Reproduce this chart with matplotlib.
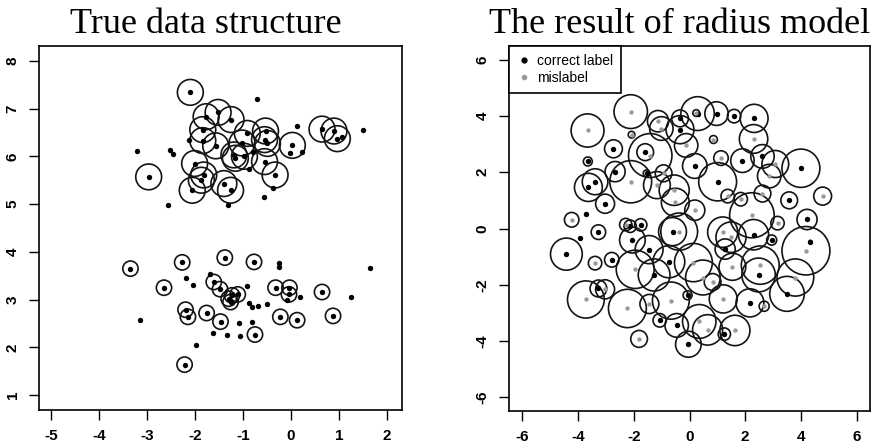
import numpy as np
import matplotlib
matplotlib.use("Agg")
import matplotlib.pyplot as plt
from matplotlib.patches import Circle
from matplotlib.lines import Line2D

# ---- left panel: true data structure ----
# upper group, points with circles
up_circ_x = [-2.10, -2.97, -1.52, -1.77, -1.25, -1.84, -1.84, -1.57, -0.91, -1.02, -1.19, -1.16, -0.97,
             -0.53, -0.55, -0.49, 0.03, 0.65, 0.90, 0.97, -2.01, -1.82, -1.87, -2.06, -1.40, -1.26, -0.55, -0.33]
up_circ_y = [7.34, 5.57, 6.92, 6.83, 6.77, 6.56, 6.33, 6.22, 6.48, 6.28, 6.03, 5.96, 6.00,
             6.53, 6.35, 6.27, 6.23, 6.57, 6.53, 6.37, 5.85, 5.61, 5.50, 5.29, 5.43, 5.29, 5.89, 5.61]
# upper group, plain points
up_pt_x = [-0.71, 0.13, 1.50, -3.21, -2.53, -2.47, -2.56, -1.31, -0.56, -0.38, -0.02, 0.24, -2.12,
           -0.88, -0.79, 1.07]
up_pt_y = [7.20, 6.64, 6.55, 6.12, 6.13, 6.05, 4.99, 4.98, 5.14, 5.33, 6.08, 6.09, 6.34,
           5.73, 6.09, 6.41]
# lower group, points with circles
lo_circ_x = [-3.35, -2.27, -1.38, -0.77, -2.65, -1.61, -1.48, -1.30, -1.26, -1.23, -1.11, -0.32, -0.03,
             -0.04, 0.65, -2.20, -2.15, -1.76, -1.47, -0.22, 0.13, 0.88, -0.75, -2.22]
lo_circ_y = [3.65, 3.78, 3.88, 3.79, 3.25, 3.37, 3.22, 3.02, 2.95, 3.09, 3.11, 3.25, 3.25,
             3.11, 3.16, 2.79, 2.64, 2.72, 2.54, 2.64, 2.57, 2.66, 2.27, 1.64]
# lower group, plain points
lo_pt_x = [-0.24, -0.25, 1.66, -2.20, -2.04, -1.68, -0.91, 0.19, 1.26, -0.88, -0.82, -0.69, -0.49,
           -0.08, -3.15, -1.09, -0.81, -1.63, -1.33, -1.07, -1.99]
lo_pt_y = [3.76, 3.69, 3.67, 3.46, 3.30, 3.53, 3.28, 3.05, 3.05, 2.92, 2.85, 2.86, 2.91,
           3.00, 2.57, 2.51, 2.54, 2.31, 2.27, 2.24, 2.06]
up_radius = 0.27
lo_radius = 0.16

# ---- right panel: radius model ----
ok_x = [-2.73, -1.59, -3.65, -2.67, -3.39, -3.63, -3.03, -3.72, -3.93, -3.27, -4.42, -2.79, -1.45, -2.05,
        -0.61, -0.74, -1.27, -3.27, -1.07, -0.46, -0.04, -0.07, -2.13, -1.75, -1.54, -0.34, -0.34, 0.29,
        0.97, 1.60, 2.32, 0.19, 1.90, 2.62, 4.00, 1.01, 3.58, 4.22, 2.30, 2.95, 1.28, 4.34, 2.48, 3.50,
        2.17, 1.25]
ok_y = [2.83, 2.71, 2.38, 2.02, 1.66, 1.46, 0.88, 0.50, -0.33, -0.13, -0.91, -1.11, -0.75, -0.41,
        -0.11, -1.18, -1.65, -2.13, -3.26, -3.44, -4.11, -2.37, 0.08, 0.13, 1.96, 3.91, 3.51, 4.08,
        4.08, 3.99, 3.91, 2.22, 2.41, 2.56, 2.14, 1.66, 1.00, 0.32, -0.22, -0.41, -0.73, -0.47, -1.65, -2.32,
        -2.64, -3.75]
ok_r = [0.32, 0.30, 0.16, 0.36, 0.46, 0.50, 0.34, 0.04, 0.03, 0.26, 0.57, 0.26, 0.50, 0.46,
        0.50, 0.57, 0.57, 0.30, 0.24, 0.42, 0.46, 0.16, 0.22, 0.22, 0.12, 0.30, 0.50, 0.60,
        0.42, 0.24, 0.50, 0.44, 0.42, 0.42, 0.68, 0.68, 0.30, 0.36, 0.54, 0.18, 0.36, 0.05, 0.60, 0.62,
        0.50, 0.22]
mis_x = [-2.11, -3.66, -2.08, -1.41, -2.11, -4.23, -3.39, -1.95, -0.37, -2.29, -3.72, -3.03, -2.23, -1.44,
         -0.67, -1.81, -1.13, -1.01, -0.12, 0.86, 2.30, 1.13, 3.08, 2.86, 1.37, 1.84, 2.62, 4.78, 0.19,
         3.16, 2.24, -0.51, -0.55, -1.17, -0.93, 1.49, 1.19, 4.18, 2.54, 3.80, 1.54, 0.83, 0.14, 0.48,
         1.21, 2.68, 0.35, 1.63, 0.65, 0.24]
mis_y = [4.15, 3.48, 3.33, 2.59, 1.66, 0.31, -1.23, -1.45, -0.11, 0.14, -2.52, -2.16, -2.84, -2.68,
         -2.56, -3.92, 3.81, 3.55, 2.95, 3.16, 3.18, 2.50, 2.29, 1.86, 1.15, 1.04, 1.24, 1.15, 0.65,
         0.19, 0.47, 0.93, 1.36, 1.54, 1.96, -0.31, -0.13, -0.79, -1.30, -1.74, -1.36, -1.90, -1.21, -1.74,
         -2.50, -2.76, -3.30, -3.62, -3.60, 4.10]
mis_r = [0.60, 0.59, 0.12, 0.78, 0.75, 0.26, 0.24, 0.68, 0.66, 0.22, 0.66, 0.34, 0.68, 0.34,
         0.66, 0.30, 0.38, 0.42, 0.42, 0.14, 0.51, 0.26, 0.48, 0.42, 0.24, 0.24, 0.30, 0.32, 0.36,
         0.24, 0.80, 0.50, 0.54, 0.48, 0.30, 0.54, 0.54, 0.86, 0.68, 0.66, 0.48, 0.30, 0.68, 0.62,
         0.50, 0.18, 0.60, 0.54, 0.54, 0.12]

left_ticks_x = [-5, -4, -3, -2, -1, 0, 1, 2]
left_ticks_y = [1, 2, 3, 4, 5, 6, 7, 8]
right_ticks = [-6, -4, -2, 0, 2, 4, 6]

GRAY = "#9a9a9a"
EDGE = "#141414"
TICKFONT = {"family": "Liberation Sans", "weight": "bold", "size": 11}

fig = plt.figure(figsize=(8.75, 4.47), dpi=100)
ax1 = fig.add_axes([39 / 875, 1 - 410 / 447, 363 / 875, 364 / 447])
ax2 = fig.add_axes([509 / 875, 1 - 411 / 447, 361 / 875, 365 / 447])


def style_axes(ax, xt, yt):
    ax.set_xticks(xt)
    ax.set_yticks(yt)
    ax.set_xticklabels([str(t) for t in xt], fontdict=TICKFONT)
    ax.set_yticklabels([str(t) for t in yt], fontdict=TICKFONT, rotation=90, va="center")
    ax.tick_params(direction="out", length=7, width=1, color="black", pad=7)
    for s in ax.spines.values():
        s.set_linewidth(1.2)
        s.set_color("black")


# left panel
for x, y in zip(up_circ_x, up_circ_y):
    ax1.add_patch(Circle((x, y), up_radius, fill=False, ec=EDGE, lw=1.2))
for x, y in zip(lo_circ_x, lo_circ_y):
    ax1.add_patch(Circle((x, y), lo_radius, fill=False, ec=EDGE, lw=1.2))
ax1.scatter(up_circ_x + up_pt_x + lo_circ_x + lo_pt_x,
            up_circ_y + up_pt_y + lo_circ_y + lo_pt_y,
            s=15, c="black", linewidths=0, zorder=3)
ax1.set_xlim(-5.26, 2.32)
ax1.set_ylim(0.69, 8.31)
style_axes(ax1, left_ticks_x, left_ticks_y)

# right panel
for x, y, r in zip(ok_x + mis_x, ok_y + mis_y, ok_r + mis_r):
    ax2.add_patch(Circle((x, y), r, fill=False, ec=EDGE, lw=1.2))
ax2.scatter(ok_x, ok_y, s=15, c="black", linewidths=0, zorder=3)
ax2.scatter(mis_x, mis_y, s=10, c=GRAY, linewidths=0, zorder=3)
ax2.set_xlim(-6.48, 6.48)
ax2.set_ylim(-6.48, 6.48)
style_axes(ax2, right_ticks, right_ticks)

handles = [Line2D([], [], ls="none", marker="o", ms=3.5, mfc="black", mec="black"),
           Line2D([], [], ls="none", marker="o", ms=3, mfc=GRAY, mec=GRAY)]
leg = ax2.legend(handles, ["correct label", "mislabel"], loc="upper left",
                 borderaxespad=0, fancybox=False, edgecolor="black",
                 prop={"family": "Liberation Sans", "size": 10},
                 handlelength=0.9, handletextpad=0.5, labelspacing=0.2, borderpad=0.6)
leg.get_frame().set_linewidth(1.2)
leg.get_frame().set_alpha(1)

fig.text(206 / 875, 1 - 33 / 447, "True data structure", family="Liberation Serif",
         size=26, ha="center", va="baseline")
fig.text(680 / 875, 1 - 33 / 447, "The result of radius model", family="Liberation Serif",
         size=26, ha="center", va="baseline")

fig.savefig("out.png", dpi=100, facecolor="white")
